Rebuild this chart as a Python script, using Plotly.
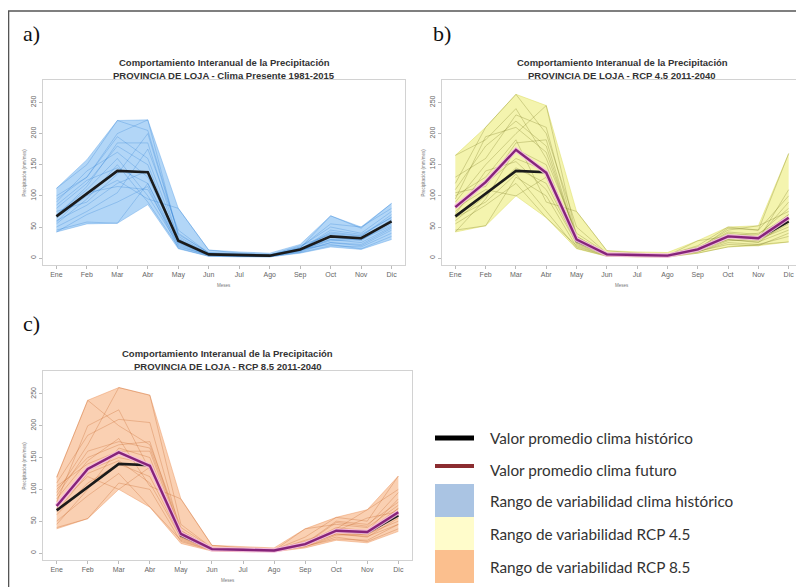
import plotly.graph_objects as go

W, H = 796, 579      # page body has an 8px margin; positions below are in window pixels
OFF = 8
meses = ["Ene", "Feb", "Mar", "Abr", "May", "Jun", "Jul", "Ago", "Sep", "Oct", "Nov", "Dic"]
y_ticks = [0, 50, 100, 150, 200, 250]

# Historical mean (black line, all panels)
hist_mean = [67, 103, 140, 138, 28, 6, 5, 4, 14, 35, 32, 59]

# Panel a: Clima Presente 1981-2015
a_max = [112, 158, 221, 222, 80, 13, 10, 8, 22, 68, 50, 88]
a_min = [42, 55, 56, 86, 15, 3, 2, 2, 8, 18, 14, 30]
a_members = [
    [112, 150, 221, 205, 40, 8, 6, 5, 15, 40, 35, 70],
    [45, 58, 56, 120, 20, 4, 3, 3, 10, 25, 20, 45],
    [95, 130, 200, 222, 35, 7, 5, 4, 16, 68, 48, 88],
    [55, 95, 150, 90, 18, 5, 4, 3, 12, 30, 25, 50],
    [80, 120, 180, 150, 25, 6, 5, 4, 14, 45, 38, 65],
    [60, 85, 120, 140, 30, 6, 4, 4, 13, 28, 30, 55],
    [70, 110, 160, 100, 22, 5, 4, 3, 11, 35, 28, 60],
    [50, 75, 105, 175, 45, 8, 6, 5, 18, 50, 40, 75],
    [90, 140, 170, 130, 28, 6, 5, 4, 15, 30, 32, 62],
    [65, 100, 125, 95, 80, 13, 8, 6, 14, 22, 15, 35],
    [42, 70, 90, 115, 16, 3, 3, 2, 9, 20, 18, 40],
    [100, 130, 195, 160, 32, 7, 5, 4, 17, 55, 50, 80],
    [75, 90, 135, 200, 38, 9, 7, 5, 20, 38, 33, 58],
    [58, 105, 115, 110, 24, 5, 4, 3, 12, 25, 22, 48],
    [85, 125, 145, 120, 26, 6, 5, 4, 13, 33, 30, 52],
    [68, 115, 185, 185, 30, 6, 5, 4, 14, 42, 36, 66],
]

# Panel b: RCP 4.5 2011-2040
b_max = [165, 210, 263, 245, 75, 12, 10, 9, 28, 50, 52, 168]
b_min = [42, 52, 100, 65, 15, 3, 2, 2, 8, 18, 20, 26]
b_mean = [82, 122, 174, 137, 30, 6, 5, 4, 14, 35, 32, 65]
b_members = [
    [165, 190, 240, 160, 40, 8, 6, 5, 15, 40, 35, 70],
    [45, 52, 130, 100, 18, 4, 3, 3, 10, 25, 22, 35],
    [120, 210, 263, 200, 50, 8, 6, 5, 20, 50, 45, 168],
    [90, 150, 200, 245, 35, 7, 5, 4, 14, 38, 30, 110],
    [60, 100, 145, 120, 25, 5, 4, 3, 12, 30, 25, 60],
    [110, 180, 220, 180, 30, 6, 5, 4, 16, 45, 52, 75],
    [75, 120, 160, 140, 28, 6, 5, 4, 13, 33, 28, 55],
    [100, 130, 190, 90, 75, 12, 8, 6, 18, 36, 34, 90],
    [55, 85, 120, 65, 20, 4, 4, 3, 11, 22, 20, 40],
    [130, 160, 230, 210, 32, 7, 5, 4, 15, 42, 38, 80],
    [80, 110, 100, 130, 22, 5, 4, 3, 10, 28, 30, 50],
    [42, 95, 175, 150, 26, 6, 5, 4, 28, 35, 40, 65],
    [95, 195, 210, 170, 35, 7, 6, 5, 14, 48, 45, 100],
    [70, 140, 155, 110, 24, 5, 4, 3, 12, 30, 26, 45],
    [105, 115, 185, 190, 30, 6, 5, 4, 15, 36, 32, 70],
    [65, 90, 135, 75, 16, 3, 3, 2, 8, 18, 22, 26],
]

# Panel c: RCP 8.5 2011-2040
c_max = [119, 240, 260, 248, 85, 12, 10, 8, 38, 56, 68, 121]
c_min = [38, 54, 100, 72, 15, 3, 2, 2, 8, 20, 16, 34]
c_mean = [74, 132, 158, 137, 30, 6, 5, 4, 14, 35, 33, 64]
c_members = [
    [119, 240, 200, 170, 40, 8, 6, 5, 15, 40, 35, 70],
    [40, 54, 110, 100, 18, 4, 3, 3, 10, 25, 18, 38],
    [95, 170, 260, 248, 45, 8, 6, 5, 25, 56, 50, 121],
    [80, 200, 225, 130, 35, 7, 5, 4, 14, 38, 68, 100],
    [60, 110, 140, 120, 25, 5, 4, 3, 12, 30, 25, 55],
    [100, 150, 170, 175, 30, 6, 5, 4, 38, 45, 40, 75],
    [70, 130, 150, 140, 28, 6, 5, 4, 13, 33, 28, 60],
    [85, 145, 180, 105, 85, 12, 8, 6, 18, 36, 34, 85],
    [50, 90, 125, 72, 20, 4, 4, 3, 11, 22, 20, 45],
    [110, 185, 210, 205, 32, 7, 5, 4, 15, 50, 45, 80],
    [75, 120, 100, 135, 22, 5, 4, 3, 10, 28, 30, 50],
    [45, 100, 165, 150, 26, 6, 5, 4, 20, 35, 55, 65],
    [90, 160, 175, 165, 35, 7, 6, 5, 14, 48, 42, 95],
    [65, 125, 145, 110, 24, 5, 4, 3, 12, 30, 26, 45],
    [105, 140, 160, 160, 30, 6, 5, 4, 15, 36, 32, 70],
]

titles = [
    ("Comportamiento Interanual de la Precipitación", "PROVINCIA DE LOJA - Clima Presente 1981-2015"),
    ("Comportamiento Interanual de la Precipitación", "PROVINCIA DE LOJA - RCP 4.5 2011-2040"),
    ("Comportamiento Interanual de la Precipitación", "PROVINCIA DE LOJA - RCP 8.5 2011-2040"),
]
legend_labels = [
    "Valor promedio clima histórico",
    "Valor promedio clima futuro",
    "Rango de variabilidad clima histórico",
    "Rango de variabilidad RCP 4.5",
    "Rango de variabilidad RCP 8.5",
]


def px(x):
    return (x - OFF) / W


def py(y):
    return 1 - (y - OFF) / H


x_idx = list(range(12))

panels = [
    dict(key="", box=(43, 405, 80, 265), mx=a_max, mn=a_min, mem=a_members, mean=None,
         fill="rgba(115,180,240,0.55)", line="rgba(25,115,205,0.28)", edge="rgba(90,160,230,0.5)",
         letter="a)", lpos=(21, 33)),
    dict(key="2", box=(442, 802, 80, 265), mx=b_max, mn=b_min, mem=b_members, mean=b_mean,
         fill="rgba(236,236,120,0.6)", line="rgba(120,120,30,0.33)", edge="rgba(220,220,90,0.6)",
         letter="b)", lpos=(431, 33)),
    dict(key="3", box=(43, 412, 371, 560), mx=c_max, mn=c_min, mem=c_members, mean=c_mean,
         fill="rgba(245,170,115,0.55)", line="rgba(195,95,35,0.33)", edge="rgba(235,150,95,0.6)",
         letter="c)", lpos=(21, 323)),
]

fig = go.Figure()
annotations = []
shapes = []

for i, p in enumerate(panels):
    xa = "x" + p["key"]
    ya = "y" + p["key"]
    fig.add_trace(go.Scatter(x=x_idx, y=p["mn"], mode="lines", line=dict(width=0.8, color=p["edge"]),
                             xaxis=xa, yaxis=ya, showlegend=False, hoverinfo="skip"))
    fig.add_trace(go.Scatter(x=x_idx, y=p["mx"], mode="lines", line=dict(width=0.8, color=p["edge"]),
                             fill="tonexty", fillcolor=p["fill"],
                             xaxis=xa, yaxis=ya, showlegend=False, hoverinfo="skip"))
    for m in p["mem"]:
        fig.add_trace(go.Scatter(x=x_idx, y=m, mode="lines", line=dict(width=0.9, color=p["line"]),
                                 xaxis=xa, yaxis=ya, showlegend=False, hoverinfo="skip"))
    fig.add_trace(go.Scatter(x=x_idx, y=hist_mean, mode="lines", line=dict(width=2.6, color="#1b1b1b"),
                             xaxis=xa, yaxis=ya, showlegend=False))
    if p["mean"] is not None:
        fig.add_trace(go.Scatter(x=x_idx, y=p["mean"], mode="lines",
                                 line=dict(width=4.6, color="rgba(245,190,225,0.9)"),
                                 xaxis=xa, yaxis=ya, showlegend=False, hoverinfo="skip"))
        fig.add_trace(go.Scatter(x=x_idx, y=p["mean"], mode="lines", line=dict(width=2.4, color="#86237a"),
                                 xaxis=xa, yaxis=ya, showlegend=False))

    x0, x1, y0, y1 = p["box"]
    axis_common = dict(showline=True, mirror=True, linecolor="#d2d2d2", linewidth=1,
                       showgrid=False, zeroline=False, ticks="outside", ticklen=3,
                       tickcolor="#bbbbbb", tickfont=dict(size=7, color="#666666", family="Liberation Sans"))
    fig.layout["xaxis" + p["key"]] = dict(domain=[px(x0), min(px(x1), 1.0)], anchor=ya, range=[-0.44, 11.44],
                                          tickvals=x_idx, ticktext=meses, **axis_common)
    fig.layout["yaxis" + p["key"]] = dict(domain=[py(y1), py(y0)], anchor=xa, range=[-11, 286],
                                          tickvals=y_ticks, tickangle=-90, **axis_common)

    cx = (x0 + x1) / 2
    t1, t2 = titles[i]
    annotations.append(dict(x=px(cx), y=py(y0 - 18), text="<b>%s</b>" % t1, showarrow=False,
                            xref="paper", yref="paper", xanchor="center", yanchor="middle",
                            font=dict(size=9.5, color="#333333", family="Liberation Sans")))
    annotations.append(dict(x=px(cx), y=py(y0 - 5), text="<b>%s</b>" % t2, showarrow=False,
                            xref="paper", yref="paper", xanchor="center", yanchor="middle",
                            font=dict(size=9.5, color="#333333", family="Liberation Sans")))
    annotations.append(dict(x=px(cx), y=py(y1 + 20), text="Meses", showarrow=False,
                            xref="paper", yref="paper", xanchor="center", yanchor="middle",
                            font=dict(size=4.5, color="#777777", family="Liberation Sans")))
    annotations.append(dict(x=px(x0 - 19), y=py((y0 + y1) / 2), text="Precipitación (mm/mes)",
                            showarrow=False, textangle=-90,
                            xref="paper", yref="paper", xanchor="center", yanchor="middle",
                            font=dict(size=4.5, color="#777777", family="Liberation Sans")))
    lx, ly = p["lpos"]
    annotations.append(dict(x=px(lx), y=py(ly), text=p["letter"], showarrow=False,
                            xref="paper", yref="paper", xanchor="left", yanchor="middle",
                            font=dict(size=22, color="#111111", family="Liberation Serif")))

# Outer frame
shapes.append(dict(type="line", xref="paper", yref="paper", x0=px(8), x1=1.0, y0=py(11), y1=py(11),
                   line=dict(color="#555555", width=1.6)))
shapes.append(dict(type="line", xref="paper", yref="paper", x0=px(8.5), x1=px(8.5), y0=py(11), y1=0,
                   line=dict(color="#555555", width=1.6)))

# Legend (drawn manually)
leg_x0, leg_x1, text_x = 435, 474, 488
shapes.append(dict(type="line", xref="paper", yref="paper", x0=px(leg_x0), x1=px(leg_x1),
                   y0=py(438), y1=py(438), line=dict(color="#000000", width=5)))
shapes.append(dict(type="line", xref="paper", yref="paper", x0=px(leg_x0), x1=px(leg_x1),
                   y0=py(466), y1=py(466), line=dict(color="#8b2c30", width=4)))
box_colors = ["#aac4e3", "#fffccb", "#fbbf8e"]
box_edges = [484, 517, 550, 583]
for k, col in enumerate(box_colors):
    shapes.append(dict(type="rect", xref="paper", yref="paper", x0=px(leg_x0), x1=px(leg_x1),
                       y0=py(box_edges[k + 1]), y1=py(box_edges[k]), fillcolor=col, line=dict(width=0)))
text_rows = [438, 470, 501, 534, 567]
for lab, ty in zip(legend_labels, text_rows):
    annotations.append(dict(x=px(text_x), y=py(ty), text=lab, showarrow=False,
                            xref="paper", yref="paper", xanchor="left", yanchor="middle",
                            font=dict(size=15.3, color="#333333", family="Lato")))

fig.update_layout(width=W, height=H, margin=dict(l=0, r=0, t=0, b=0),
                  paper_bgcolor="white", plot_bgcolor="white", showlegend=False,
                  annotations=annotations, shapes=shapes)
fig.write_html("out.html")
